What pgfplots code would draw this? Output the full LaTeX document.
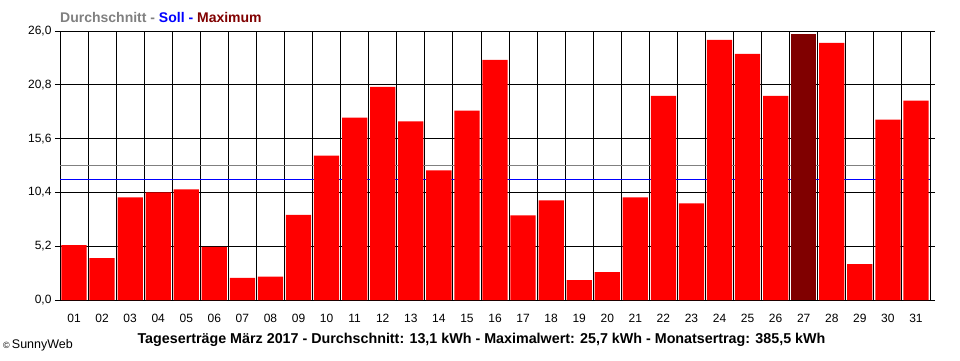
\documentclass[border=0pt]{standalone}
\usepackage{fontspec}
\setmainfont{Liberation Sans}
\usepackage{pgfplots}
\pgfplotsset{compat=1.18}
\definecolor{barred}{RGB}{255,0,0}
\definecolor{maxred}{RGB}{128,0,0}
\definecolor{avggray}{RGB}{128,128,128}
\definecolor{sollblue}{RGB}{0,0,255}
\begin{document}
\begin{tikzpicture}[x=1pt,y=1pt]
\useasboundingbox (0,0) rectangle (960,360);
\begin{axis}[
  at={(60pt,60pt)}, anchor=south west,
  scale only axis, width=870pt, height=269pt,
  xmin=0.5, xmax=31.5, ymin=0, ymax=26,
  xtick={1,...,31},
  xticklabels={01,02,03,04,05,06,07,08,09,10,11,12,13,14,15,16,17,18,19,20,21,22,23,24,25,26,27,28,29,30,31},
  minor xtick={0.5,1.5,2.5,3.5,4.5,5.5,6.5,7.5,8.5,9.5,10.5,11.5,12.5,13.5,14.5,15.5,16.5,17.5,18.5,19.5,20.5,21.5,22.5,23.5,24.5,25.5,26.5,27.5,28.5,29.5,30.5,31.5},
  xminorgrids, ymajorgrids,
  ytick={0,5.2,10.4,15.6,20.8,26},
  yticklabels={{0,0},{5,2},{10,4},{15,6},{20,8},{26,0}},
  tick align=outside,
  major tick length=5pt, minor tick length=5pt,
  xtick style={draw=none},
  minor tick style={black, line width=0.9pt},
  ytick style={black, line width=0.9pt},
  minor grid style={black, line width=0.9pt},
  major grid style={black, line width=0.9pt},
  axis line style={black, line width=0.9pt},
  tick label style={font=\fontsize{12}{14}\selectfont},
  xticklabel style={yshift=-6pt},
  /pgf/number format/assume math mode=true,
]
\addplot[avggray, line width=1pt] coordinates {(0.5,12.97) (31.5,12.97)};
\addplot[sollblue, line width=1pt] coordinates {(0.5,11.62) (31.5,11.62)};
\addplot[ybar, bar width=0.9, bar shift=0, fill=barred, draw=none] coordinates {
(1,5.30) (2,4.04) (3,9.92) (4,10.40) (5,10.69) (6,5.14) (7,2.15) (8,2.25) (9,8.22) (10,13.96)
(11,17.62) (12,20.61) (13,17.27) (14,12.52) (15,18.30) (16,23.21) (17,8.19) (18,9.63) (19,1.93) (20,2.70)
(21,9.92) (22,19.74) (23,9.34) (24,25.14) (25,23.79) (26,19.74) (28,24.85) (29,3.47) (30,17.43) (31,19.26)
};
\addplot[ybar, bar width=0.9, bar shift=0, fill=maxred, draw=none] coordinates {(27,25.70)};
\end{axis}
\node[anchor=west, inner sep=0pt, font=\fontsize{14}{16}\selectfont\bfseries] at (60,343)
  {\textcolor{avggray}{Durchschnitt -} \textcolor{sollblue}{Soll -} \textcolor{maxred}{Maximum}};
\node[anchor=center, inner sep=0pt, font=\fontsize{14.3}{16}\selectfont\bfseries] at (481.5,20)
  {Tageserträge März 2017 - Durchschnitt: 13,1 kWh - Maximalwert: 25,7 kWh - Monatsertrag: 385,5 kWh};
\node[anchor=west, inner sep=0pt, font=\fontsize{12.5}{14}\selectfont] at (3,15)
  {{\fontsize{9}{9}\selectfont ©}\,SunnyWeb};
\end{tikzpicture}
\end{document}
